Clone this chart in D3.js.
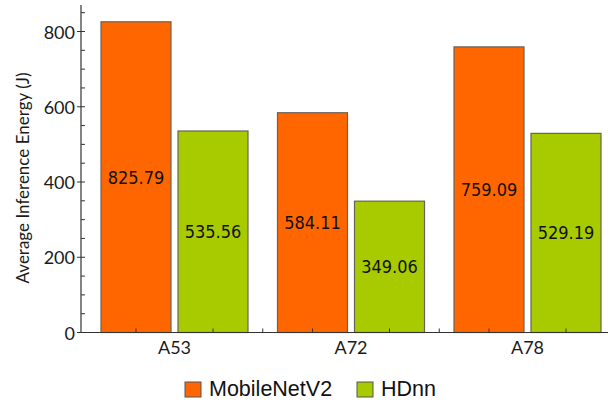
<!DOCTYPE html>
<html><head><meta charset="utf-8">
<script src="https://cdn.jsdelivr.net/npm/d3@7"></script>
<style>body{margin:0;background:#fff}svg{display:block}</style>
</head><body>
<svg id="c" width="608" height="402"></svg>
<script>
const categories = ["A53", "A72", "A78"];
const seriesNames = ["MobileNetV2", "HDnn"];
const mobilenetV2 = [825.79, 584.11, 759.09];
const hdnn = [535.56, 349.06, 529.19];
const yTicks = [0, 200, 400, 600, 800];
const colors = ["#ff6600", "#a8cb00"];

const values = [mobilenetV2, hdnn];
const svg = d3.select("#c");

const y = d3.scaleLinear().domain([0, 800]).range([332.5, 31.5]);
const x0 = d3.scaleBand().domain(categories).range([86.25, 615.75]).paddingInner(29.5/176.5).paddingOuter(29.5/176.5/2);
const x1 = d3.scaleBand().domain(seriesNames).range([0, x0.bandwidth()]).paddingInner(7/77);
const axisX = 81;

// bars
categories.forEach((c, ci) => {
  seriesNames.forEach((s, si) => {
    const v = values[si][ci];
    const bx = x0(c) + x1(s);
    svg.append("rect")
      .attr("x", bx).attr("y", y(v))
      .attr("width", x1.bandwidth()).attr("height", y(0) - y(v))
      .attr("fill", colors[si]).attr("stroke", "#6b6158").attr("stroke-width", 1.2);
    svg.append("text")
      .attr("x", bx + x1.bandwidth()/2).attr("y", (y(v) + y(0))/2)
      .attr("text-anchor", "middle").attr("dominant-baseline", "central")
      .attr("font-family", "'DejaVu Sans Condensed','DejaVu Sans',sans-serif")
      .style("font-stretch", "condensed")
      .attr("font-size", 18).attr("fill", "#111")
      .text(v.toFixed(2));
  });
});

// y axis
const gy = svg.append("g");
gy.append("line").attr("x1", axisX).attr("x2", axisX).attr("y1", y(0)).attr("y2", 5)
  .attr("stroke", "#333").attr("stroke-width", 1.2);
d3.range(0, 851, 50).forEach(t => {
  const major = t % 200 === 0;
  gy.append("line").attr("x1", major ? axisX - 4 : axisX).attr("x2", axisX + 4)
    .attr("y1", y(t)).attr("y2", y(t)).attr("stroke", "#333").attr("stroke-width", 1);
});
yTicks.forEach(t => {
  gy.append("text").attr("x", 75).attr("y", y(t)).attr("text-anchor", "end")
    .attr("dominant-baseline", "central")
    .attr("font-family", "Lato, sans-serif").attr("font-size", 18).attr("fill", "#1a1a1a")
    .text(t);
});
svg.append("text")
  .attr("transform", `translate(29,178) rotate(-90)`)
  .attr("text-anchor", "middle")
  .attr("font-family", "Lato, sans-serif").attr("font-size", 17).attr("fill", "#1a1a1a")
  .text("Average Inference Energy (J)");

// x axis
const gx = svg.append("g");
gx.append("line").attr("x1", axisX).attr("x2", 608).attr("y1", y(0)).attr("y2", y(0))
  .attr("stroke", "#333").attr("stroke-width", 1.2);
const xt = [];
categories.forEach((c, i) => {
  seriesNames.forEach(s => xt.push(x0(c) + x1(s) + x1.bandwidth()/2));
  if (i < categories.length - 1) xt.push(x0(c) + x0.step() - (x0.step()-x0.bandwidth())/2 + 0);
});
xt.forEach(px => gx.append("line").attr("x1", px).attr("x2", px).attr("y1", y(0)).attr("y2", y(0) - 4)
  .attr("stroke", "#333").attr("stroke-width", 1));
categories.forEach(c => {
  gx.append("text").attr("x", x0(c) + x0.bandwidth()/2).attr("y", 354)
    .attr("text-anchor", "middle")
    .attr("font-family", "Lato, sans-serif").attr("font-size", 18).attr("fill", "#1a1a1a")
    .text(c);
});

// legend
const legX = [185, 357];
seriesNames.forEach((s, i) => {
  svg.append("rect").attr("x", legX[i]).attr("y", 382).attr("width", 16).attr("height", 15)
    .attr("fill", colors[i]).attr("stroke", "#555").attr("stroke-width", 1);
  svg.append("text").attr("x", legX[i] + 24).attr("y", 396)
    .attr("font-family", "'Liberation Sans', Arial, sans-serif").attr("font-size", 21.5).attr("fill", "#111")
    .text(s);
});
</script>
</body></html>
